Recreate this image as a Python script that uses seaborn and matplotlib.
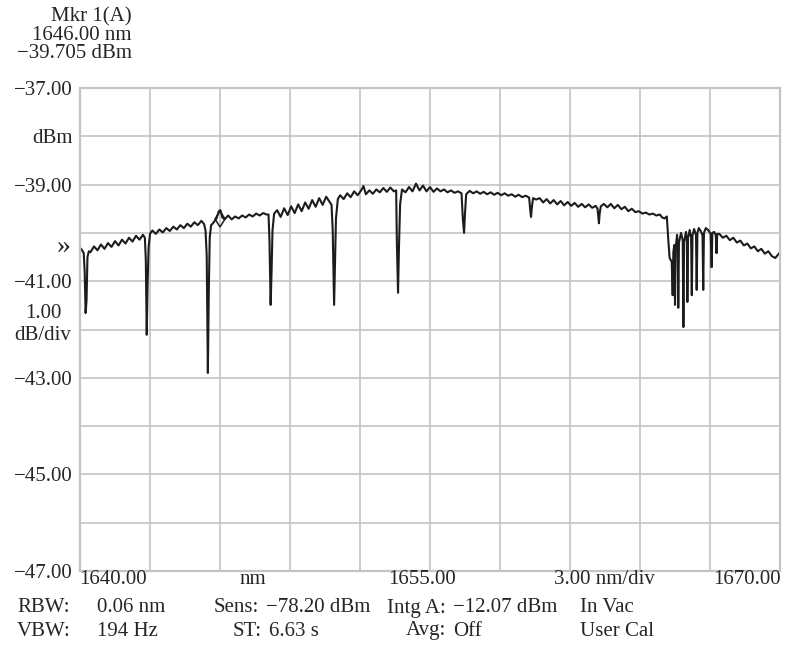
import pandas as pd
import matplotlib
matplotlib.use('Agg')
import matplotlib.pyplot as plt
import seaborn as sns

# trace (nm, dBm)
wavelength_nm = [
    1640.00, 1640.08, 1640.16, 1640.20, 1640.24, 1640.28, 1640.32, 1640.38,
    1640.45, 1640.60, 1640.75, 1640.90, 1641.05, 1641.20, 1641.35, 1641.50, 1641.65,
    1641.80, 1641.95, 1642.10, 1642.25, 1642.40, 1642.55, 1642.70, 1642.78,
    1642.82, 1642.86, 1642.90, 1642.94, 1643.00,
    1643.10, 1643.25, 1643.40, 1643.55, 1643.70, 1643.85, 1644.00, 1644.15, 1644.30,
    1644.45, 1644.60, 1644.75, 1644.90, 1645.05, 1645.20, 1645.32, 1645.38,
    1645.43, 1645.48, 1645.52, 1645.56, 1645.62, 1645.70,
    1645.85, 1645.95, 1646.02, 1646.10, 1646.20,
    1646.35, 1646.50, 1646.65, 1646.80, 1646.95, 1647.10, 1647.25, 1647.40, 1647.55,
    1647.70, 1647.85, 1648.00, 1648.08,
    1648.12, 1648.17, 1648.21, 1648.25, 1648.32,
    1648.45, 1648.60, 1648.75, 1648.90, 1649.05, 1649.20, 1649.35, 1649.50, 1649.65,
    1649.80, 1649.95, 1650.10, 1650.25, 1650.40, 1650.55, 1650.70, 1650.78,
    1650.83, 1650.89, 1650.93, 1650.97, 1651.05,
    1651.15, 1651.30, 1651.45, 1651.60, 1651.75, 1651.90, 1652.05, 1652.15, 1652.25,
    1652.40, 1652.55, 1652.70, 1652.85, 1653.00, 1653.15, 1653.30, 1653.45, 1653.55,
    1653.58, 1653.63, 1653.67, 1653.72, 1653.80,
    1653.95, 1654.10, 1654.25, 1654.40, 1654.55, 1654.70, 1654.85, 1655.00, 1655.15,
    1655.30, 1655.45, 1655.60, 1655.75, 1655.90, 1656.05, 1656.20, 1656.35,
    1656.41, 1656.46, 1656.50, 1656.55, 1656.70,
    1656.85, 1657.00, 1657.15, 1657.30, 1657.45, 1657.60, 1657.75, 1657.90, 1658.05,
    1658.20, 1658.35, 1658.50, 1658.65, 1658.80, 1658.95, 1659.10, 1659.25,
    1659.30, 1659.33, 1659.37, 1659.42, 1659.55,
    1659.70, 1659.85, 1660.00, 1660.15, 1660.30, 1660.45, 1660.60, 1660.75, 1660.90,
    1661.05, 1661.20, 1661.35, 1661.50, 1661.65, 1661.80, 1661.95, 1662.10, 1662.18,
    1662.21, 1662.24, 1662.27, 1662.32, 1662.45,
    1662.60, 1662.75, 1662.90, 1663.05, 1663.20, 1663.35, 1663.50, 1663.65, 1663.80,
    1663.95, 1664.10, 1664.25, 1664.40, 1664.55, 1664.70, 1664.85, 1664.95, 1665.05,
    1665.15, 1665.22, 1665.27,
    1665.36, 1665.40, 1665.43, 1665.47, 1665.50, 1665.53, 1665.59, 1665.62, 1665.64,
    1665.67, 1665.76, 1665.83, 1665.86, 1665.89, 1665.97, 1666.01, 1666.03, 1666.06,
    1666.13, 1666.19, 1666.22, 1666.25, 1666.32, 1666.40, 1666.43, 1666.46, 1666.52,
    1666.60, 1666.68, 1666.71, 1666.74, 1666.82, 1666.92, 1667.03, 1667.07, 1667.10,
    1667.18, 1667.25, 1667.28, 1667.31, 1667.40,
    1667.55, 1667.70, 1667.85, 1668.00, 1668.15, 1668.30, 1668.45, 1668.60, 1668.75,
    1668.90, 1669.05, 1669.20, 1669.35, 1669.50, 1669.65, 1669.80, 1670.00,
]
power_dbm = [
    -40.31, -40.35, -40.42, -40.80, -41.66, -41.40, -40.50, -40.38,
    -40.40, -40.28, -40.36, -40.24, -40.33, -40.21, -40.29, -40.17, -40.26,
    -40.14, -40.22, -40.10, -40.18, -40.06, -40.14, -40.04, -40.10,
    -40.55, -42.11, -41.00, -40.30, -40.02,
    -39.95, -40.02, -39.93, -39.99, -39.90, -39.96, -39.87, -39.93, -39.84,
    -39.90, -39.81, -39.87, -39.78, -39.84, -39.75, -39.82, -39.95,
    -40.46, -42.90, -41.20, -40.10, -39.84, -39.80,
    -39.70, -39.55, -39.53, -39.68, -39.72,
    -39.64, -39.72, -39.66, -39.70, -39.64, -39.68, -39.62, -39.66, -39.60,
    -39.64, -39.59, -39.62, -39.62,
    -40.15, -41.49, -40.80, -39.95, -39.60,
    -39.53, -39.67, -39.49, -39.63, -39.45, -39.59, -39.41, -39.55, -39.37,
    -39.50, -39.32, -39.46, -39.28, -39.42, -39.25, -39.36, -39.42,
    -39.94, -41.49, -40.60, -39.70, -39.30,
    -39.22, -39.30, -39.18, -39.26, -39.14, -39.22, -39.12, -39.03, -39.20,
    -39.12, -39.19, -39.10, -39.16, -39.07, -39.15, -39.06, -39.14, -39.12,
    -40.20, -41.24, -40.30, -39.40, -39.10,
    -39.16, -39.05, -39.14, -38.98, -39.12, -39.02, -39.14, -39.05, -39.15,
    -39.08, -39.14, -39.10, -39.16, -39.12, -39.17, -39.14, -39.18,
    -39.73, -40.00, -39.60, -39.20, -39.13,
    -39.18, -39.14, -39.19, -39.15, -39.20, -39.16, -39.21, -39.17, -39.22,
    -39.18, -39.23, -39.20, -39.25, -39.21, -39.26, -39.23, -39.27,
    -39.55, -39.67, -39.45, -39.28, -39.31,
    -39.28, -39.37, -39.30, -39.39, -39.32, -39.41, -39.34, -39.43, -39.36,
    -39.44, -39.38, -39.46, -39.40, -39.47, -39.41, -39.48, -39.44, -39.50,
    -39.65, -39.80, -39.60, -39.45, -39.40,
    -39.47, -39.40, -39.49, -39.42, -39.51, -39.46, -39.55, -39.50, -39.57,
    -39.55, -39.60, -39.58, -39.62, -39.60, -39.64, -39.62, -39.68, -39.70,
    -39.66, -40.20, -40.52,
    -40.60, -41.29, -40.40, -40.25, -41.49, -40.30, -40.04, -40.30, -41.55,
    -40.20, -40.00, -40.15, -41.95, -40.20, -39.98, -40.15, -41.43, -40.10,
    -39.94, -40.10, -41.29, -40.05, -39.92, -40.05, -41.18, -40.00, -39.90,
    -39.96, -40.05, -41.18, -40.00, -39.90, -39.94, -40.02, -40.71, -40.00,
    -39.98, -40.05, -40.42, -40.02, -40.02,
    -40.10, -40.06, -40.15, -40.10, -40.20, -40.16, -40.26, -40.22, -40.32,
    -40.28, -40.38, -40.33, -40.43, -40.38, -40.48, -40.52, -40.40,
]

marker_nm = 1646.00
marker_dbm = -39.705

y_ticks = [-47, -46, -45, -44, -43, -42, -41, -40, -39, -38, -37]
y_labels = ['\u221247.00', '', '\u221245.00', '', '\u221243.00', '', '\u221241.00', '',
            '\u221239.00', 'dBm', '\u221237.00']
x_ticks = [1640, 1643, 1646, 1649, 1652, 1655, 1658, 1661, 1664, 1667, 1670]

df = pd.DataFrame({'nm': wavelength_nm, 'dBm': power_dbm})

sns.set_style('white')
plt.rcParams['font.family'] = ['Liberation Serif', 'DejaVu Serif']
FS = 15
GRID = '#c4c4c4'
INK = '#1c1c1c'

W, H = 786, 648
fig = plt.figure(figsize=(W / 100, H / 100), dpi=100)
ax = fig.add_axes([80 / W, 1 - 571 / H, 700 / W, 483 / H])

sns.lineplot(data=df, x='nm', y='dBm', ax=ax, color=INK, linewidth=1.5,
             estimator=None, sort=False)
ax.plot([marker_nm], [marker_dbm], marker='d', ms=8, mfc='none', mec=INK, mew=1.1)

ax.set_xlim(1640, 1670)
ax.set_ylim(-47, -37)
ax.set_xticks(x_ticks)
ax.set_xticklabels([])
ax.set_yticks(y_ticks)
ax.set_yticklabels(y_labels, fontsize=FS)
ax.tick_params(length=0, pad=5)
ax.grid(True, color=GRID, linewidth=1.2)
for s in ax.spines.values():
    s.set_color(GRID)
    s.set_linewidth(1.6)
ax.set_xlabel('')
ax.set_ylabel('')


def ftext(px, py, s, ha='left', size=FS):
    fig.text(px / W, 1 - py / H, s, ha=ha, va='center', fontsize=size)


# marker readout
ftext(132, 17, 'Mkr 1(A)', 'right')
ftext(132, 36, '1646.00 nm', 'right')
ftext(132, 54, '\u221239.705 dBm', 'right')

# left side annotations
ftext(64, 247, '\u00bb', 'center', 20)
ftext(43, 313, '1.00', 'center')
ftext(43, 335, 'dB/div', 'center')

# x axis row
ftext(79, 580, '1640.00')
ftext(253, 580, 'nm', 'center')
ftext(422, 580, '1655.00', 'center')
ftext(604, 580, '3.00 nm/div', 'center')
ftext(781, 580, '1670.00', 'right')

# settings rows
ftext(17, 608, 'RBW:')
ftext(97, 608, '0.06 nm')
ftext(259, 608, 'Sens:', 'right')
ftext(266, 608, '\u221278.20 dBm')
ftext(446, 608, 'Intg A:', 'right')
ftext(453, 608, '\u221212.07 dBm')
ftext(580, 608, 'In Vac')

ftext(17, 631, 'VBW:')
ftext(97, 631, '194 Hz')
ftext(262, 631, 'ST:', 'right')
ftext(269, 631, '6.63 s')
ftext(446, 631, 'Avg:', 'right')
ftext(453, 631, 'Off')
ftext(580, 631, 'User Cal')

fig.savefig('out.png', dpi=100)
